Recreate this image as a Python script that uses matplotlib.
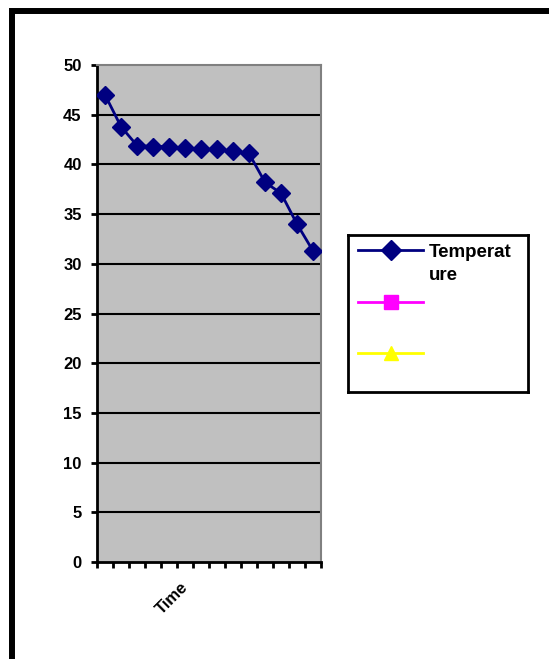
import numpy as np
import matplotlib.pyplot as plt
import matplotlib.lines as mlines
from matplotlib.patches import Rectangle

plt.rcParams['font.family'] = ['Liberation Sans', 'DejaVu Sans']
plt.rcParams['font.weight'] = 'bold'

# readings, one per time step
temperature = [47.0, 43.8, 41.9, 41.8, 41.8, 41.6, 41.5, 41.5, 41.3, 41.1, 38.2, 37.1, 34.0, 31.3]
y_ticks = [0, 5, 10, 15, 20, 25, 30, 35, 40, 45, 50]
series_names = ["Temperat\nure", "", ""]
x_title = "Time"

W, H = 549, 659
fig = plt.figure(figsize=(W / 100, H / 100), dpi=100)

def fx(px):
    return px / W

def fy(py):
    return 1 - py / H

# outer chart frame (cut at the right and bottom)
fig.add_artist(Rectangle((fx(11.5), fy(700)), fx(600), fy(11) - fy(700),
                         transform=fig.transFigure, fill=False,
                         edgecolor="black", linewidth=4.3))

ax = fig.add_axes([fx(97), fy(562), fx(321) - fx(97), fy(65) - fy(562)])
ax.set_facecolor("#c0c0c0")

n = len(temperature)
x = np.arange(n) + 0.5
ax.plot(x, temperature, color="#000080", linewidth=2, marker="D",
        markersize=9.5, markerfacecolor="#000080", markeredgecolor="#000080", zorder=3)

ax.set_xlim(0, n)
ax.set_ylim(0, 50)
ax.set_yticks(y_ticks)
ax.set_yticklabels([str(v) for v in y_ticks], fontsize=12, fontweight="bold")
for v in y_ticks[1:-1]:
    ax.axhline(v, color="black", linewidth=1.5, zorder=1)

ax.set_xticks(np.arange(n + 1))
ax.set_xticklabels([])
ax.tick_params(axis="x", direction="out", length=4, width=2, color="black")
ax.tick_params(axis="y", direction="out", length=4, width=2, color="black", pad=7)

ax.spines["left"].set_linewidth(2)
ax.spines["bottom"].set_linewidth(2)
ax.spines["top"].set_color("#808080")
ax.spines["right"].set_color("#808080")
ax.spines["top"].set_linewidth(1.5)
ax.spines["right"].set_linewidth(1.5)

fig.text(fx(172), fy(598), x_title, rotation=45, fontsize=12, fontweight="bold",
         ha="center", va="center")

# legend box
lg = fig.add_axes([fx(348), fy(392), fx(528) - fx(348), fy(235) - fy(392)])
lg.set_xlim(348, 528)
lg.set_ylim(392, 235)
lg.set_xticks([])
lg.set_yticks([])
for s in lg.spines.values():
    s.set_linewidth(2)
handles = [
    mlines.Line2D([358, 423], [250, 250], color="#000080", linewidth=2),
    mlines.Line2D([358, 423], [302, 302], color="#ff00ff", linewidth=2),
    mlines.Line2D([358, 423], [353, 353], color="#ffff00", linewidth=2),
]
markers = ["D", "s", "^"]
mcolors = ["#000080", "#ff00ff", "#ffff00"]
for h, m, c, name in zip(handles, markers, mcolors, series_names):
    lg.add_line(h)
    yy = h.get_ydata()[0]
    lg.plot([390.5], [yy], marker=m, markersize=10, color=c, linestyle="none")
    if name:
        lg.text(429, yy - 6, name, fontsize=13.5, fontweight="bold",
                va="top", ha="left", linespacing=1.45)

fig.savefig("out.png", dpi=100)
